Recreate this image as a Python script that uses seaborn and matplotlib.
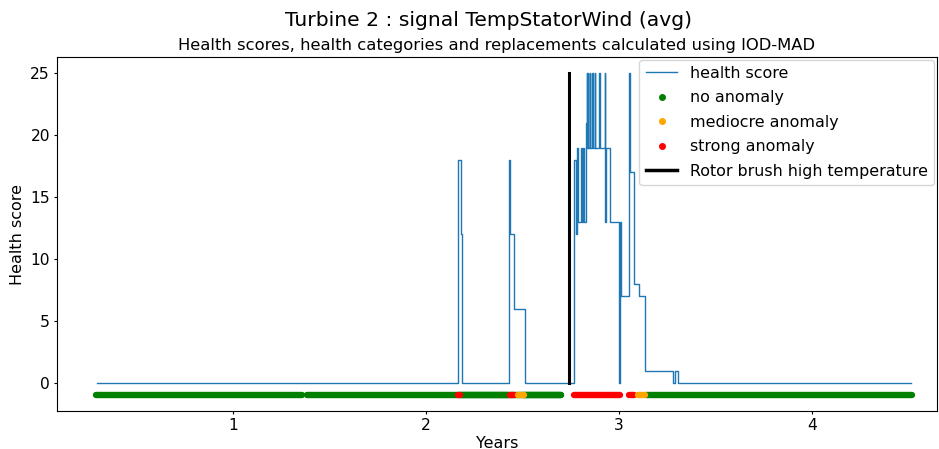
import numpy as np
import pandas as pd
import matplotlib
matplotlib.use("Agg")
import matplotlib.pyplot as plt
from matplotlib.lines import Line2D
import seaborn as sns

# Health score (change points, step-post)
hs_t = [0.295, 2.166, 2.181, 2.187, 2.430, 2.435, 2.458, 2.513,
        2.770, 2.777, 2.784, 2.789, 2.802, 2.808, 2.815, 2.820, 2.829, 2.833,
        2.836, 2.838, 2.841, 2.850, 2.853, 2.862, 2.865, 2.874, 2.877,
        2.898, 2.901, 2.926, 2.929, 2.932, 2.953, 3.000, 3.005, 3.010,
        3.054, 3.057, 3.078, 3.104, 3.138, 3.282, 3.290, 3.307, 4.515]
hs_v = [0, 18, 12, 0, 18, 12, 6, 0,
        18, 12, 19, 13, 19, 13, 19, 13, 21, 25,
        19, 25, 19, 25, 19, 25, 19, 25, 19,
        25, 19, 25, 13, 19, 13, 0, 13, 7,
        25, 17, 8, 7, 1, 0, 1, 0, 0]

# Health categories (segments of samples at y = -1)
cat_start = [0.290, 1.385, 2.165, 2.182, 2.434, 2.477, 2.510, 2.770, 3.030, 3.055, 3.098, 3.140]
cat_end   = [1.360, 2.700, 2.177, 2.425, 2.454, 2.506, 2.700, 3.007, 3.033, 3.080, 3.133, 4.520]
cat_name  = ["no anomaly", "no anomaly", "strong anomaly", "no anomaly", "strong anomaly",
             "mediocre anomaly", "no anomaly", "strong anomaly", "mediocre anomaly",
             "strong anomaly", "mediocre anomaly", "no anomaly"]
cat_colors = {"no anomaly": "green", "mediocre anomaly": "orange", "strong anomaly": "red"}

# Replacement event
event_x = 2.741
event_label = "Rotor brush high temperature"

fig = plt.figure(figsize=(9.39, 4.49), dpi=100)
ax = fig.add_axes([0.0607, 0.0846, 0.937, 0.788])

# normal samples first, then anomalies on top in time order
order = sorted(range(len(cat_start)),
               key=lambda i: (cat_name[i] != "no anomaly", cat_start[i]))
for i in order:
    seg = pd.DataFrame({"t": [cat_start[i], cat_end[i]], "y": [-1, -1]})
    sns.lineplot(data=seg, x="t", y="y", ax=ax, color=cat_colors[cat_name[i]],
                 linewidth=4.6, solid_capstyle="round", estimator=None, sort=False)

hs = pd.DataFrame({"t": hs_t, "v": hs_v})
sns.lineplot(data=hs, x="t", y="v", ax=ax, color="#1f77b4", linewidth=1.0,
             drawstyle="steps-post", estimator=None, sort=False)

ev = pd.DataFrame({"t": [event_x, event_x], "v": [0, 25]})
sns.lineplot(data=ev, x="t", y="v", ax=ax, color="black", linewidth=2.2,
             estimator=None, sort=False)

ax.set_xlim(0.088, 4.648)
ax.set_ylim(-2.26, 26.29)
ax.set_xticks([1, 2, 3, 4])
ax.set_yticks([0, 5, 10, 15, 20, 25])
ax.tick_params(labelsize=11.2, length=2.5, pad=2.5)
ax.set_xlabel("Years", fontsize=11.5, labelpad=2)
ax.set_ylabel("Health score", fontsize=11.5, labelpad=4)
ax.set_title("Health scores, health categories and replacements calculated using IOD-MAD",
             fontsize=11.8, pad=5)
fig.suptitle("Turbine 2 : signal TempStatorWind (avg)", fontsize=14.6, x=0.52, y=0.975)

handles = [
    Line2D([], [], color="#1f77b4", lw=1, label="health score"),
    Line2D([], [], color="green", marker="o", ls="", markersize=4, label="no anomaly"),
    Line2D([], [], color="orange", marker="o", ls="", markersize=4, label="mediocre anomaly"),
    Line2D([], [], color="red", marker="o", ls="", markersize=4, label="strong anomaly"),
    Line2D([], [], color="black", lw=2.5, label=event_label),
]
ax.legend(handles=handles, loc="upper right", fontsize=11.4, borderaxespad=0.15,
          labelspacing=0.6)

fig.savefig("out.png", dpi=100)
